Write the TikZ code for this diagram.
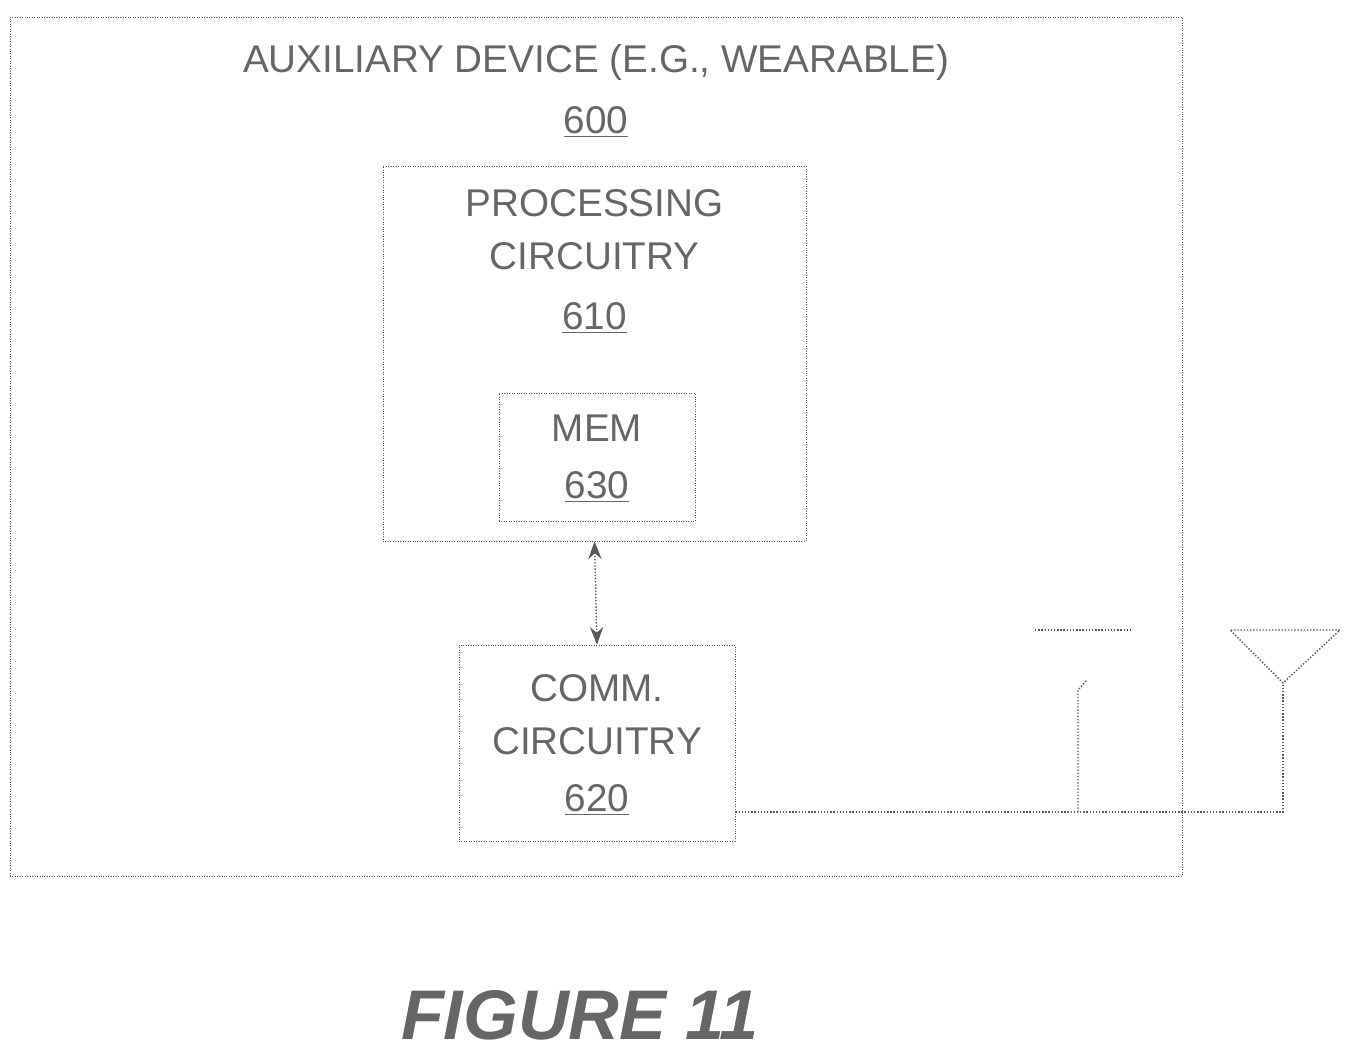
\documentclass[tikz,border=0pt]{standalone}
\usepackage{fontspec}
\setmainfont{Liberation Sans}
\usetikzlibrary{arrows.meta,positioning,calc}
\tikzset{
  box/.style={draw, densely dotted, gray!70!black, inner sep=0pt},
  lbl/.style={font=\fontsize{22}{30}\selectfont, text=gray!80!black, align=center},
  wire/.style={densely dotted, gray!70!black, thick}
}
\begin{document}
\begin{tikzpicture}[x=0.02cm, y=-0.02cm]
\useasboundingbox (0,0) rectangle (1361,1062);

% Outer device
\node[box, minimum width=1172*0.02cm, minimum height=859*0.02cm] (dev) at (596,446.5) {};
\node[lbl] (devlbl) at (596,62) {AUXILIARY DEVICE (E.G., WEARABLE)};
\node[lbl] (devnum) at (596,122) {\underline{600}};

% Processing circuitry
\node[box, minimum width=423*0.02cm, minimum height=375*0.02cm] (proc) at (594.5,353.5) {};
\node[lbl] (proclbl) at (594.5,230) {PROCESSING\\CIRCUITRY};
\node[lbl] (procnum) at (594.5,318) {\underline{610}};

% Memory
\node[box, minimum width=196*0.02cm, minimum height=128*0.02cm] (mem) at (597,457) {};
\node[lbl] (memlbl) at (597,428) {MEM};
\node[lbl] (memnum) at (597,487) {\underline{630}};

% Comm circuitry
\node[box, minimum width=276*0.02cm, minimum height=196*0.02cm] (comm) at (597,743) {};
\node[lbl] (commlbl) at (597,715) {COMM.\\CIRCUITRY};
\node[lbl] (commnum) at (597,800) {\underline{620}};

\draw[wire, {Stealth[length=10pt]}-{Stealth[length=10pt]}] (proc.south) -- (comm.north);

% Antennas
\coordinate (feed) at (1283,812);
\coordinate (tip) at (1283,683);
\draw[wire] (comm.east |- feed) -- (feed) -- (tip);
\draw[wire] (tip) -- (1230,630) -- (1340,630) -- cycle;
\draw[wire] (1078,812) -- (1078,690) -- (1087,680);
\draw[wire] (1035,630) -- (1132,630);

\node[font=\bfseries\itshape\fontsize{40}{44}\selectfont, text=gray!80!black] (fig) at (580,1015) {FIGURE 11};
\end{tikzpicture}
\end{document}
